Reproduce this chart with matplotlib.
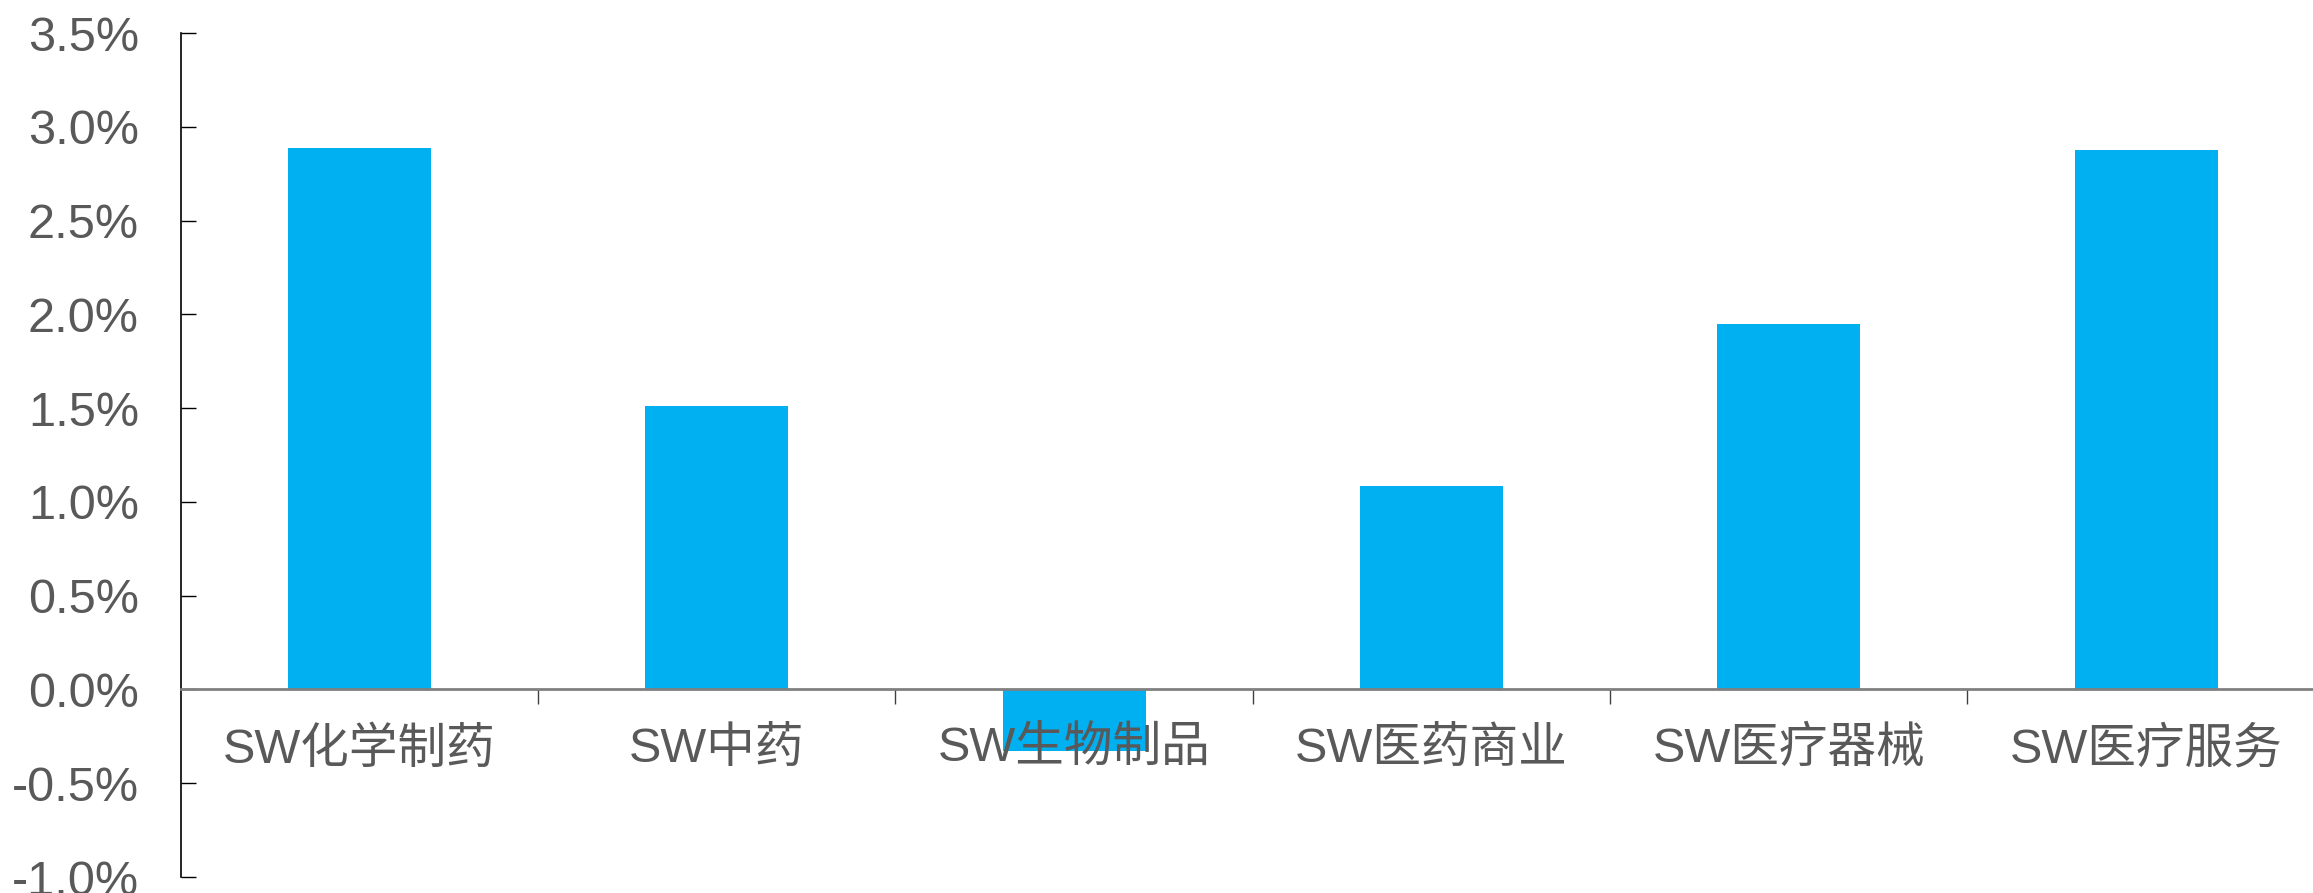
import matplotlib
matplotlib.use("Agg")
from matplotlib import pyplot as plt

plt.rcParams['font.family'] = ['Liberation Sans', 'Noto Sans CJK SC', 'DejaVu Sans']

categories = ["SW化学制药", "SW中药", "SW生物制品", "SW医药商业", "SW医疗器械", "SW医疗服务"]
values = [2.886, 1.511, -0.33, 1.085, 1.947, 2.874]
y_ticks = [-1.0, -0.5, 0.0, 0.5, 1.0, 1.5, 2.0, 2.5, 3.0, 3.5]
y_labels = ["%.1f%%" % v for v in y_ticks]

fig = plt.figure(figsize=(23.13, 8.93), dpi=100)
ax = fig.add_axes([0.0781, 0.0179, 0.927, 0.9451])

x = range(len(categories))
ax.bar(x, values, width=0.4, color='#00B0F0', zorder=1)

ax.set_xlim(-0.5, len(categories) - 0.5)
ax.set_ylim(-1.0, 3.5)

# y axis: black spine, ticks pointing inward
ax.set_yticks(y_ticks)
ax.set_yticklabels(y_labels)
ax.tick_params(axis='y', direction='in', length=11, width=1, color='black',
               labelsize=35, labelcolor='#595959', pad=30)

# x axis sits on zero, category ticks between bars
ax.spines['bottom'].set_position(('data', 0))
ax.spines['bottom'].set_color('#808080')
ax.spines['bottom'].set_linewidth(2)
ax.spines['left'].set_linewidth(1.2)
ax.spines['top'].set_visible(False)
ax.spines['right'].set_visible(False)

ax.set_xticks(list(x))
ax.set_xticklabels(categories)
ax.set_xticks([i + 0.5 for i in range(len(categories))], minor=True)
ax.tick_params(axis='x', which='major', length=0, labelsize=35,
               labelcolor='#595959', pad=27)
ax.tick_params(axis='x', which='minor', direction='out', length=11,
               width=1, color='#404040')

fig.savefig("out.png", dpi=100)
